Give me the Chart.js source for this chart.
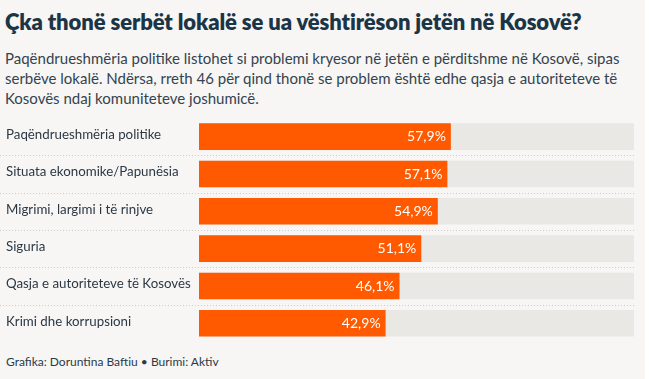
<!DOCTYPE html>
<html>
<head>
<meta charset="utf-8">
<script src="https://cdn.jsdelivr.net/npm/chart.js@4.4.1/dist/chart.umd.min.js"></script>
<style>
  html, body { margin:0; padding:0; background:#ffffff; }
  #page { position:relative; width:645px; height:379px; background:#f7f6f4; overflow:hidden; font-family:"Lato", "Noto Sans", sans-serif; }
  #title { position:absolute; left:5px; top:8px; font-size:22px; font-weight:800; color:#1b3546; white-space:nowrap; letter-spacing:-0.1px; }
  #sub { position:absolute; left:5px; top:48px; font-size:15px; line-height:20px; color:#34434f; white-space:nowrap; }
  #foot { position:absolute; left:6px; top:354px; font-size:12px; color:#2b3a47; white-space:nowrap; }
  #wrap { position:absolute; left:0; top:110px; width:645px; height:240px; }
</style>
</head>
<body>
<div id="page">
  <div id="title">Çka thonë serbët lokalë se ua vështirëson jetën në Kosovë?</div>
  <div id="sub">Paqëndrueshmëria politike listohet si problemi kryesor në jetën e përditshme në Kosovë, sipas<br>serbëve lokalë. Ndërsa, rreth 46 për qind thonë se problem është edhe qasja e autoriteteve të<br>Kosovës ndaj komuniteteve joshumicë.</div>
  <div id="wrap"><canvas id="c"></canvas></div>
  <div id="foot">Grafika: Doruntina Baftiu • Burimi: Aktiv</div>
</div>
<script>
const categories = [
  "Paqëndrueshmëria politike",
  "Situata ekonomike/Papunësia",
  "Migrimi, largimi i të rinjve",
  "Siguria",
  "Qasja e autoriteteve të Kosovës",
  "Krimi dhe korrupsioni"
];
const values = [57.9, 57.1, 54.9, 51.1, 46.1, 42.9];
const track = [100, 100, 100, 100, 100, 100];

const valueLabels = {
  id: 'valueLabels',
  afterDatasetsDraw(chart) {
    const ctx = chart.ctx;
    const meta = chart.getDatasetMeta(0);
    ctx.save();
    ctx.font = '14px Lato, "Noto Sans", sans-serif';
    ctx.fillStyle = '#ffffff';
    ctx.textAlign = 'right';
    ctx.textBaseline = 'middle';
    meta.data.forEach((bar, i) => {
      ctx.fillText(values[i].toFixed(1).replace('.', ',') + '%', bar.x - 5, bar.y);
    });
    ctx.restore();
  }
};

const separators = {
  id: 'separators',
  beforeDatasetsDraw(chart) {
    const ctx = chart.ctx;
    const y = chart.scales.y;
    const right = chart.chartArea.right;
    ctx.save();
    ctx.strokeStyle = '#cfcdca';
    ctx.lineWidth = 1;
    ctx.setLineDash([1, 2]);
    for (let i = 0; i < categories.length - 1; i++) {
      const py = Math.round((y.getPixelForValue(i) + y.getPixelForValue(i + 1)) / 2) + 0.5;
      ctx.beginPath();
      ctx.moveTo(0, py);
      ctx.lineTo(right, py);
      ctx.stroke();
    }
    ctx.restore();
  }
};

new Chart(document.getElementById('c'), {
  type: 'bar',
  data: {
    labels: categories,
    datasets: [
      { data: values, backgroundColor: '#ff5a00', grouped: false, barPercentage: 0.712, categoryPercentage: 1 },
      { data: track, backgroundColor: '#e9e8e5', grouped: false, barPercentage: 0.712, categoryPercentage: 1 }
    ]
  },
  options: {
    indexAxis: 'y',
    responsive: true,
    maintainAspectRatio: false,
    animation: false,
    layout: { padding: { left: 6, right: 11, top: 4.5, bottom: 8 } },
    plugins: { legend: { display: false }, tooltip: { enabled: false } },
    scales: {
      x: { display: false, min: 0, max: 100 },
      y: {
        grid: { display: false },
        border: { display: false },
        afterFit(scale) { scale.width = 193; },
        ticks: {
          crossAlign: 'far',
          padding: 0,
          labelOffset: -2,
          color: '#2b3845',
          font: { family: 'Lato, "Noto Sans", sans-serif', size: 13.3 }
        }
      }
    }
  },
  plugins: [separators, valueLabels]
});
</script>
</body>
</html>
